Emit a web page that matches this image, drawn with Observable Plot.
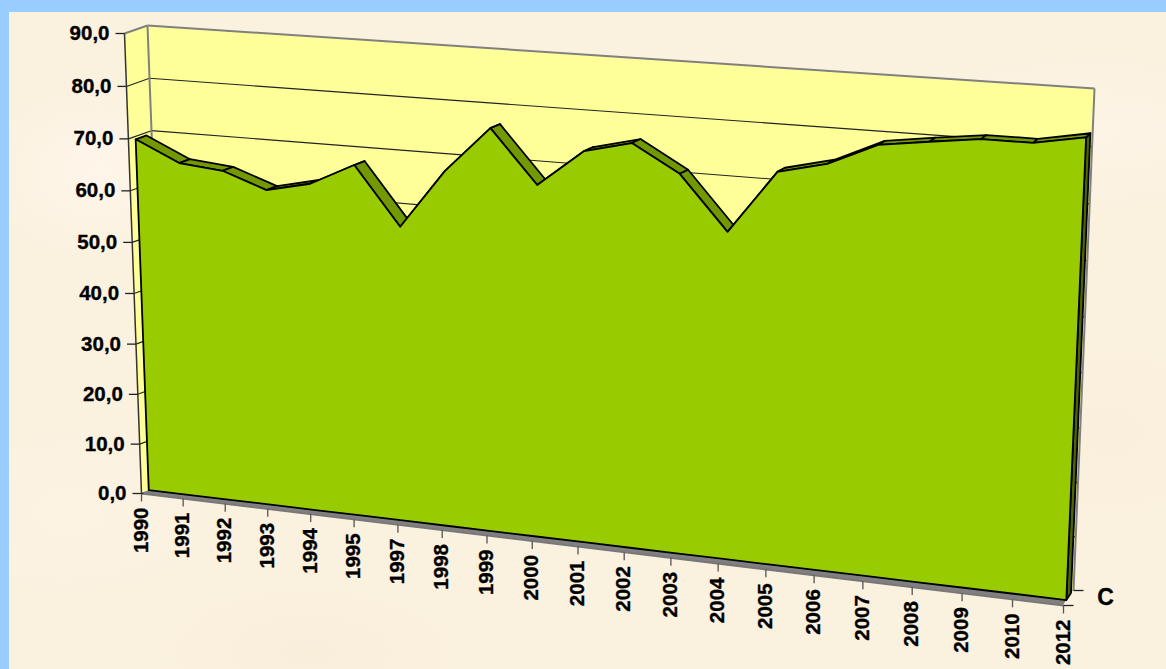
<!DOCTYPE html><html><head><meta charset="utf-8">
<script src="https://cdn.jsdelivr.net/npm/d3@7"></script>
<script src="https://cdn.jsdelivr.net/npm/@observablehq/plot@0.6"></script>
<style>html,body{margin:0;padding:0;background:#99CCFF;width:1166px;height:669px;overflow:hidden}
#p{position:absolute;left:9px;top:12px;width:1157px;height:657px;background:
radial-gradient(ellipse 120px 90px at 90px 160px,#FEF6EA,transparent),
radial-gradient(ellipse 200px 80px at 1080px 120px,#FDF4E6,transparent),
radial-gradient(ellipse 160px 70px at 300px 640px,#F8EEDA,transparent),
radial-gradient(ellipse 150px 90px at 60px 500px,#FDF3E3,transparent),
radial-gradient(ellipse 130px 100px at 1100px 420px,#F9EFDC,transparent),
#FBF1DF}
#c{position:absolute;left:0;top:0}svg{display:block;background:transparent!important}</style></head><body><div id="p"></div><div id="c"></div>
<script>
const years=["1990","1991","1992","1993","1994","1995","1997","1998","1999","2000","2001","2002","2003","2004","2005","2006","2007","2008","2009","2010","2012"];
const values=[69.3,65.4,64.6,61.6,63.5,67.7,56.8,67.9,76.5,66.7,73.6,75.7,70.8,61.0,72.5,74.6,78.6,79.8,80.9,80.9,82.5];
const yTicks=[0,10,20,30,40,50,60,70,80,90];
const yLabels=["0,0","10,0","20,0","30,0","40,0","50,0","60,0","70,0","80,0","90,0"];
const seriesName="C";
const frontQ=[[141,493],[1063,605],[1085,96],[124,33]],backQ=[[164.5,484],[1073,590],[1094,88],[147,25]];
const yMax=90,last=years.length-1,zFront=0.33,zBack=0.8;
function hom(q){const[[x0,y0],[x1,y1],[x2,y2],[x3,y3]]=q;const dx1=x1-x2,dx2=x3-x2,sx=x0-x1+x2-x3,dy1=y1-y2,dy2=y3-y2,sy=y0-y1+y2-y3,den=dx1*dy2-dx2*dy1,g=(sx*dy2-dx2*sy)/den,h=(dx1*sy-sx*dy1)/den;return{a:x1-x0+g*x1,b:x3-x0+h*x3,c:x0,d:y1-y0+g*y1,e:y3-y0+h*y3,f:y0,g,h}}
function P(i,v,z){const H=hom(frontQ.map((p,k)=>[p[0]+(backQ[k][0]-p[0])*z,p[1]+(backQ[k][1]-p[1])*z])),u=i/last,w=v/yMax,d=H.g*u+H.h*w+1;return{x:(H.a*u+H.b*w+H.c)/d,y:(H.d*u+H.e*w+H.f)/d}}
const band=(a,b,k)=>({x1:a.x,y1:a.y,x2:b.x,y2:b.y,k});
const link=(a,b)=>({x1:a.x,y1:a.y,x2:b.x,y2:b.y});
const quad=(a,b,c,d)=>[band(a,b),band(d,c)];
const A={x1:"x1",y1:"y1",x2:"x2",y2:"y2"};
const frontArea=values.map((v,i)=>band(P(i,0,zFront),P(i,v,zFront)));
const facets=values.slice(1).flatMap((v,j)=>[band(P(j,values[j],zFront),P(j,values[j],zBack),j),band(P(j+1,v,zFront),P(j+1,v,zBack),j)]);
const side=quad(P(last,0,zFront),P(last,0,zBack),P(last,values[last],zBack),P(last,values[last],zFront));
const backWall=quad(P(0,0,1),P(last,0,1),P(last,yMax,1),P(0,yMax,1));
const leftWall=quad(P(0,0,0),P(0,0,1),P(0,yMax,1),P(0,yMax,0));
const floor=quad(P(0,0,0),P(last,0,0),P(last,0,1),P(0,0,1));
const grid=yTicks.filter(v=>v>0&&v<yMax).flatMap(v=>[link(P(0,v,0),P(0,v,1)),link(P(0,v,1),P(last,v,1))]);
const wallEdge=[link(P(0,yMax,0),P(0,yMax,1)),link(P(0,yMax,1),P(last,yMax,1)),link(P(last,yMax,1),P(last,0,1)),link(P(0,yMax,1),P(0,0,1))];
const axisY=[link(P(0,yMax,0),P(0,0,0))];
const axisX=[link(P(0,0,0),P(last,0,0))];
const yTickRows=yTicks.map(v=>{const p=P(0,v,0);return{x1:p.x+(v?0:2),y1:p.y,x2:p.x-9,y2:p.y}});
const yText=yTicks.map((v,i)=>{const p=P(0,v,0);return{x:p.x-15,y:p.y,t:yLabels[i]}});
const xTickRows=years.map((t,i)=>{const p=P(i,0,0);return{x1:p.x,y1:p.y,x2:p.x,y2:p.y+8}});
const xText=years.map((t,i)=>{const p=P(i,0,0);return{x:p.x-0.5,y:p.y+14,t}});
const zTicks=[0,1].map(z=>{const p=P(last,0,z);return{x1:p.x,y1:p.y,x2:p.x+10,y2:p.y}});
const zp=P(last,0,0.5);
const font={fontFamily:"'Liberation Sans',Arial,sans-serif",fontWeight:"bold",fill:"#000",stroke:"#000",strokeWidth:0.35};
const ln=(o)=>({...A,...o});
const chart=Plot.plot({width:1166,height:669,margin:0,x:{type:"identity",axis:null},y:{type:"identity",axis:null},style:{background:"transparent"},marks:[
 Plot.area(backWall,{...A,fill:"#FFFF99"}),
 Plot.area(leftWall,{...A,fill:"#FFFF99"}),
 Plot.area(floor,{...A,fill:"#808080"}),
 Plot.link(grid,ln({stroke:"#222",strokeWidth:1.1})),
 Plot.link(wallEdge,ln({stroke:"#808080",strokeWidth:2})),
 Plot.link(axisY,ln({stroke:"#333",strokeWidth:1.5})),
 Plot.link(axisX,ln({stroke:"#777",strokeWidth:2})),
 Plot.link(yTickRows,ln({stroke:"#222",strokeWidth:1.3})),
 Plot.link(xTickRows,ln({stroke:"#555",strokeWidth:1.3})),
 Plot.link(zTicks,ln({stroke:"#222",strokeWidth:1.3})),
 Plot.area(side,{...A,fill:"#4D6600",stroke:"#000",strokeWidth:1.8}),
 Plot.area(facets,{...A,z:"k",fill:"#739900",stroke:"#000",strokeWidth:1.8,strokeLinejoin:"round"}),
 Plot.area(frontArea,{...A,fill:"#99CC00",stroke:"#000",strokeWidth:1.8,strokeLinejoin:"round"}),
 Plot.text(yText,{x:"x",y:"y",text:"t",textAnchor:"end",fontSize:20.5,...font}),
 Plot.text(xText,{x:"x",y:"y",text:"t",rotate:-90,textAnchor:"end",fontSize:20.5,...font}),
 Plot.text([seriesName],{x:zp.x,y:zp.y,dx:37,text:d=>d,fontSize:23,...font})
]});
document.getElementById("c").appendChild(chart);
</script></body></html>
